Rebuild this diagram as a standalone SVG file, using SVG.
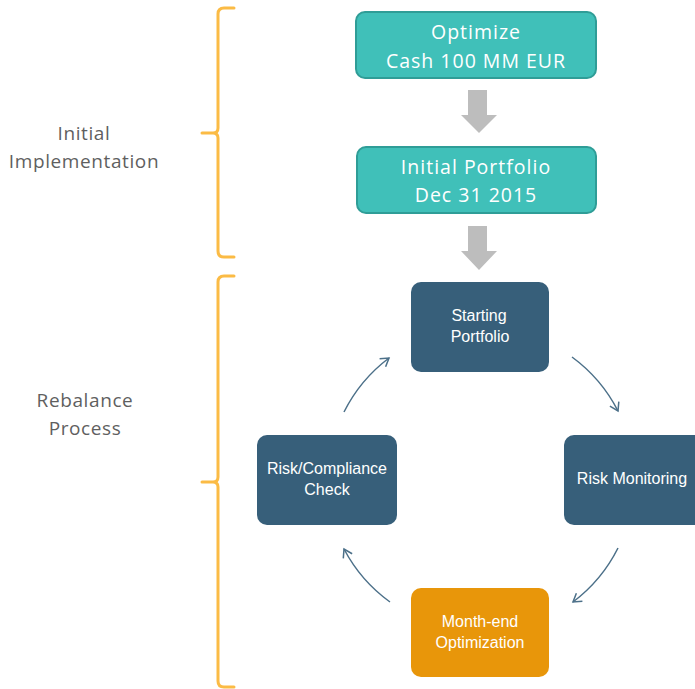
<svg xmlns="http://www.w3.org/2000/svg" width="695" height="689" viewBox="0 0 695 689">
<defs>
<style>
.teal{fill:#40C0B9;stroke:#2F9D97;stroke-width:2}
.navy{fill:#375F7A}
.orange{fill:#E8960A}
.big{font-family:"Open Sans","Liberation Sans",sans-serif;font-size:19.5px;letter-spacing:1px;fill:#fff;text-anchor:middle}
.sm{font-family:"Liberation Sans","Open Sans",sans-serif;font-size:16px;fill:#fff;text-anchor:middle}
.lbl{font-family:"Open Sans","Liberation Sans",sans-serif;font-size:19px;letter-spacing:0.6px;fill:#5f5f5f;text-anchor:middle}
.brace{fill:none;stroke:#FBBB45;stroke-width:3;stroke-linecap:round;stroke-linejoin:round}
.cyc{fill:none;stroke:#4C7089;stroke-width:1.5}
.gray{fill:#BDBDBD}
</style>
<marker id="ah" markerWidth="12" markerHeight="12" refX="9" refY="6" orient="auto" markerUnits="userSpaceOnUse">
<path d="M1,1 L9,6 L1,11" fill="none" stroke="#4C7089" stroke-width="1.5"/>
</marker>
</defs>
<rect width="695" height="689" fill="#fff"/>
<g id="brace-initial"><path class="brace" d="M234,8 H224 Q218,8 218,14 V128 Q218,133 213,133 H202 M213,133 Q218,133 218,138 V251 Q218,257 224,257 H234"/></g>
<g id="brace-rebalance"><path class="brace" d="M234,276 H224 Q218,276 218,282 V477 Q218,482 213,482 H202 M213,482 Q218,482 218,487 V681 Q218,687 224,687 H234"/></g>
<g id="label-initial"><text class="lbl" x="84" y="140">Initial</text><text class="lbl" x="84" y="168">Implementation</text></g>
<g id="label-rebalance"><text class="lbl" x="85" y="407">Rebalance</text><text class="lbl" x="85" y="435">Process</text></g>
<g id="optimize"><rect class="teal" x="356" y="12" width="240" height="66" rx="9"/><text class="big" x="476" y="39">Optimize</text><text class="big" x="476" y="68">Cash 100 MM EUR</text></g>
<g id="initial-portfolio"><rect class="teal" x="357" y="147" width="239" height="66" rx="9"/><text class="big" x="476" y="174">Initial Portfolio</text><text class="big" x="476" y="202">Dec 31 2015</text></g>
<g id="starting"><rect class="navy" x="411" y="282" width="138" height="90" rx="10"/><text class="sm" x="479" y="321">Starting</text><text class="sm" x="480" y="342">Portfolio</text></g>
<g id="risk-monitoring"><rect class="navy" x="564" y="435" width="145" height="90" rx="10"/><text class="sm" x="632" y="484">Risk Monitoring</text></g>
<g id="month-end"><rect class="orange" x="411" y="588" width="138" height="89" rx="10"/><text class="sm" x="480" y="627">Month-end</text><text class="sm" x="480" y="648">Optimization</text></g>
<g id="risk-compliance"><rect class="navy" x="257" y="435" width="140" height="90" rx="10"/><text class="sm" x="327" y="474">Risk/Compliance</text><text class="sm" x="327" y="495">Check</text></g>
<g id="connectors">
<path class="gray" d="M468,90 H487 V115 H497 L479,133 L461,115 H468 Z"/>
<path class="gray" d="M468,226 H487 V251 H497 L479,270 L461,251 H468 Z"/>
<path class="cyc" marker-end="url(#ah)" d="M572,357 A154,154 0 0 1 618,411"/>
<path class="cyc" marker-end="url(#ah)" d="M618,548 A154,154 0 0 1 573,602"/>
<path class="cyc" marker-end="url(#ah)" d="M390,602 A154,154 0 0 1 344,549"/>
<path class="cyc" marker-end="url(#ah)" d="M344,412 A154,154 0 0 1 389,358"/>
</g>
</svg>
